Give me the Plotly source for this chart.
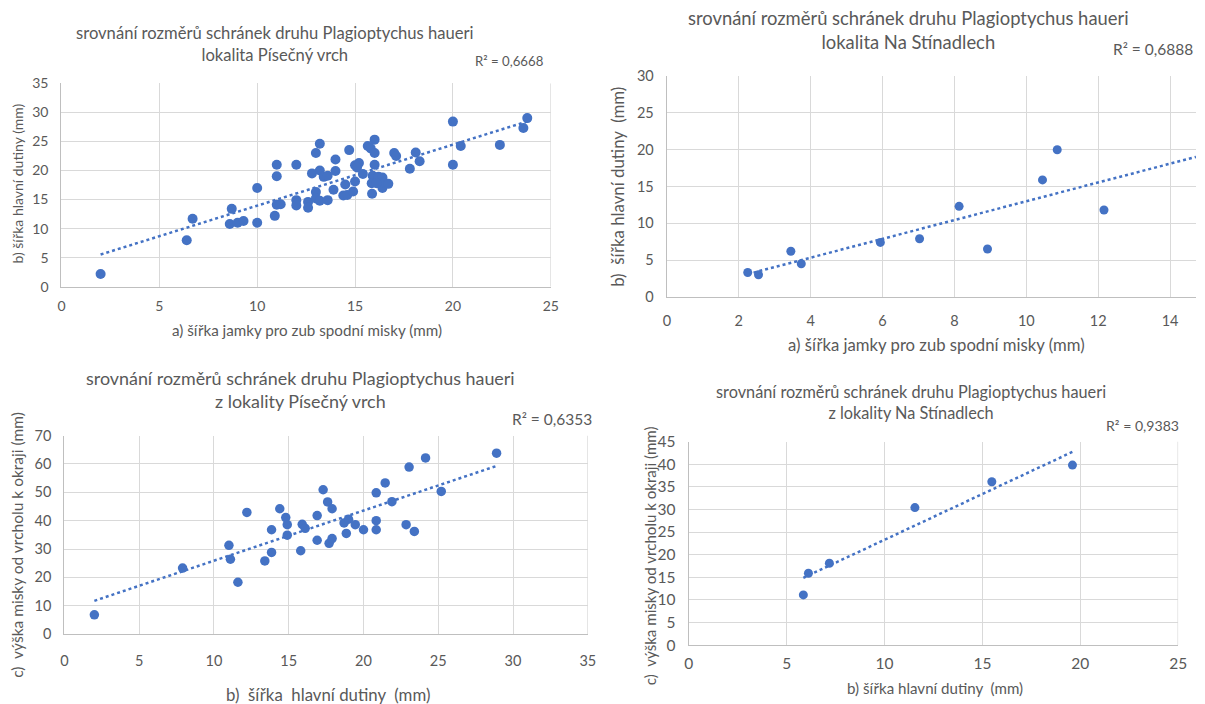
import numpy as np
import plotly.graph_objects as go

# ---------- data ----------
# Chart 1: Písečný vrch, a) šířka jamky vs b) šířka hlavní dutiny
pis_a = [2.0, 6.4, 6.7, 8.6, 8.7, 9.0, 9.3, 10.0, 10.0, 10.9, 11.0, 11.0, 11.0, 11.2,
         12.0, 12.0, 12.0, 12.6, 12.6, 12.8, 13.0, 13.0, 13.0, 13.2, 13.2, 13.2, 13.4,
         13.6, 13.6, 14.0, 14.0, 13.9, 14.5, 14.4, 14.7, 14.6, 14.9, 15.0, 15.0, 15.2,
         15.1, 15.4, 15.65, 15.8, 16.0, 16.0, 16.0, 15.9, 15.85, 15.87, 16.2, 16.4, 16.4,
         16.5, 16.7, 16.1, 17.0, 17.1, 17.8, 18.1, 18.3, 20.0, 20.0, 20.4, 22.4, 23.6, 23.8]
pis_b = [2.2, 8.0, 11.7, 10.8, 13.4, 11.0, 11.3, 17.0, 11.0, 12.2, 21.0, 19.0, 14.1, 14.2,
         21.0, 14.9, 14.0, 14.6, 13.6, 19.5, 23.0, 16.3, 15.2, 24.6, 20.0, 14.8, 18.9,
         19.1, 14.9, 21.9, 19.9, 16.7, 17.6, 15.7, 23.5, 15.8, 16.4, 18.1, 20.9, 21.3,
         20.5, 19.4, 24.2, 23.8, 25.3, 23.0, 21.0, 19.1, 17.8, 16.0, 18.9, 18.8, 17.0,
         17.9, 17.7, 17.8, 23.0, 22.5, 20.3, 23.1, 21.6, 28.4, 21.0, 24.2, 24.4, 27.3, 29.0]

# Chart 2: Na Stínadlech, a) vs b)
sti_a = [2.25, 2.55, 3.45, 3.74, 5.94, 7.03, 8.13, 8.92, 10.45, 10.86, 12.16]
sti_b = [3.3, 3.0, 6.2, 4.5, 7.4, 7.9, 12.3, 6.5, 15.9, 20.0, 11.8]

# Chart 3: Písečný vrch, b) šířka hlavní dutiny vs c) výška misky
pis_b2 = [2.0, 7.9, 11.0, 11.1, 11.6, 12.2, 13.4, 13.85, 13.85, 14.4, 14.8, 14.9, 14.9,
          15.9, 15.8, 16.1, 16.9, 16.9, 17.3, 17.6, 17.7, 17.9, 17.9, 18.7, 18.85, 19.0,
          19.45, 20.0, 20.85, 20.85, 20.85, 21.45, 21.9, 22.85, 23.05, 23.4, 24.15, 25.2, 28.9]
pis_c = [6.8, 23.3, 31.3, 26.4, 18.3, 42.9, 25.8, 36.8, 28.8, 44.2, 41.1, 38.6, 34.9,
         38.7, 29.4, 37.3, 41.8, 33.1, 50.9, 46.6, 32.0, 44.2, 33.7, 39.2, 35.5, 40.5,
         38.6, 36.8, 49.8, 40.0, 36.8, 53.3, 46.7, 38.6, 58.9, 36.2, 62.1, 50.3, 63.8]

# Chart 4: Na Stínadlech, b) vs c)
sti_b2 = [5.85, 6.11, 7.18, 11.55, 15.48, 19.6]
sti_c = [11.1, 15.9, 18.1, 30.4, 36.1, 39.8]

titles = [
    "srovnání rozměrů schránek druhu Plagioptychus haueri<br>lokalita Písečný vrch",
    "srovnání rozměrů schránek druhu Plagioptychus haueri<br>lokalita Na Stínadlech",
    "srovnání rozměrů schránek druhu Plagioptychus haueri<br>z lokality Písečný vrch",
    "srovnání rozměrů schránek druhu Plagioptychus haueri<br>z lokality Na Stínadlech",
]
r2_labels = ["R² = 0,6668", "R² = 0,6888", "R² = 0,6353", "R² = 0,9383"]
x_titles = ["a) šířka jamky pro zub spodní misky (mm)",
            "a) šířka jamky pro zub spodní misky (mm)",
            "b)\u00a0 šířka\u00a0 hlavní dutiny\u00a0 (mm)",
            "b) šířka hlavní dutiny\u00a0 (mm)"]
y_titles = ["b) šířka hlavní dutiny (mm)",
            "b)\u00a0 šířka hlavní dutiny\u00a0 (mm)",
            "c)\u00a0 výška misky od vrcholu k okraji (mm)",
            "c)\u00a0 výška misky od vrcholu k okraji (mm)"]

x_ranges = [[0, 25], [0, 14.72], [0, 35], [0, 25]]
x_dticks = [5, 2, 5, 5]
y_ranges = [[0, 35], [0, 30], [0, 70], [0, 45]]
y_dticks = [5, 5, 10, 5]

# page has an 8px body margin: shrink the figure
OFF = 8
W, H = 1205 - OFF, 704 - OFF
BLUE = "#4472C4"
GRAY = "#595959"
FONT = "Lato"

# layout positions measured on the reference (px), mapped to figure px
areas = [(61, 550, 83, 287), (666, 1210, 76, 297), (64, 587, 436, 635), (688, 1177, 442, 646)]
marker_sizes = [10, 9, 9.5, 9]
tick_sizes = [14, 14.5, 14.5, 15.5]
x_standoff = [6, 11, 13, 4]
y_standoff = [9, 9, 9, 9]

def mx(px):
    return 1.0116 * px - 11.7

def my(py):
    return 1.0246 * py - 18.1

def fx(px):
    return min(max(mx(px) / W, 0.0), 1.0)

def fy(py):
    return min(max(1 - my(py) / H, 0.0), 1.0)

fig = go.Figure()
datasets = [(pis_a, pis_b), (sti_a, sti_b), (pis_b2, pis_c), (sti_b2, sti_c)]
for i, (xs, ys) in enumerate(datasets):
    sfx = "" if i == 0 else str(i + 1)
    xs_a = np.array(xs)
    ys_a = np.array(ys)
    slope, inter = np.polyfit(xs_a, ys_a, 1)
    x_end = x_ranges[i][1] if i == 1 else xs_a.max()
    tx = np.array([xs_a.min(), x_end])
    fig.add_trace(go.Scatter(x=tx, y=slope * tx + inter, mode="lines",
                             line=dict(color=BLUE, width=2.5, dash="dot"),
                             xaxis="x" + sfx, yaxis="y" + sfx, showlegend=False,
                             hoverinfo="skip"))
    fig.add_trace(go.Scatter(x=xs, y=ys, mode="markers",
                             marker=dict(color=BLUE, size=marker_sizes[i]),
                             xaxis="x" + sfx, yaxis="y" + sfx, showlegend=False))

layout = dict(width=W, height=H, margin=dict(l=0, r=0, t=0, b=0),
              paper_bgcolor="white", plot_bgcolor="white",
              font=dict(family=FONT, color=GRAY), showlegend=False)
for i, (l, r, t, b) in enumerate(areas):
    sfx = "" if i == 0 else str(i + 1)
    layout["xaxis" + sfx] = dict(
        domain=[fx(l), fx(r)], anchor="y" + sfx, range=x_ranges[i],
        dtick=x_dticks[i], tick0=0, showgrid=True, gridcolor="#d9d9d9", gridwidth=1,
        showline=True, linecolor="#bfbfbf", linewidth=1.3, mirror=False, zeroline=False,
        ticks="", ticklabelstandoff=x_standoff[i],
        tickfont=dict(size=tick_sizes[i], color=GRAY, family=FONT))
    layout["yaxis" + sfx] = dict(
        domain=[fy(b), fy(t)], anchor="x" + sfx, range=y_ranges[i],
        dtick=y_dticks[i], tick0=0, showgrid=True, gridcolor="#d9d9d9", gridwidth=1,
        showline=True, linecolor="#bfbfbf", linewidth=1.3, zeroline=False,
        ticks="", ticklabelstandoff=y_standoff[i],
        tickfont=dict(size=tick_sizes[i], color=GRAY, family=FONT))
fig.update_layout(**layout)

# right edge of the plot areas (Excel draws the last vertical gridline)
for i in [0, 2, 3]:
    sfx = "" if i == 0 else str(i + 1)
    fig.add_shape(type="line", xref="x" + sfx, yref="y" + sfx,
                  x0=x_ranges[i][1], x1=x_ranges[i][1], y0=y_ranges[i][0], y1=y_ranges[i][1],
                  line=dict(color="#d9d9d9", width=1.3), layer="below")

def ann(text, xpx, ypx, size, angle=0, xanchor="center"):
    fig.add_annotation(text=text, x=min(fx(xpx), (W - 1) / W), y=fy(ypx),
                       xref="paper", yref="paper",
                       showarrow=False, xanchor=xanchor, yanchor="middle", textangle=angle,
                       font=dict(family=FONT, size=size, color=GRAY))

title_pos = [(274, 44, 16.6), (908, 30, 18.4), (300, 390, 17.9), (910, 402, 16.3)]
r2_pos = [(545, 61, 13.2), (1204, 49, 15.5), (593, 419, 15.5), (1180, 426, 14.1)]
xt_pos = [(306, 330, 15.2), (935, 345, 16.7), (327, 695, 16.8), (934, 689, 15.1)]
yt_pos = [(17, 183, 14), (616, 187, 16.8), (17, 545, 15.5), (649, 556, 15.1)]

for i in range(4):
    ann(titles[i], *title_pos[i])
    ann(r2_labels[i], *r2_pos[i], xanchor="right")
    ann(x_titles[i], *xt_pos[i])
    ann(y_titles[i], yt_pos[i][0], yt_pos[i][1], yt_pos[i][2], angle=-90)

fig.write_html("out.html")
